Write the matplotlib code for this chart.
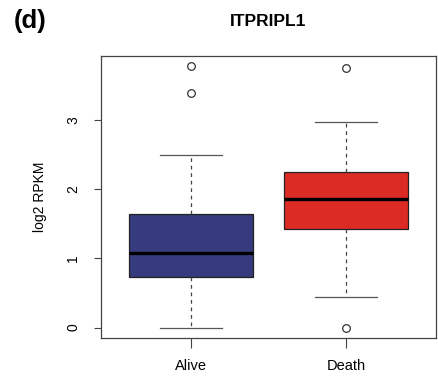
import matplotlib
matplotlib.use("Agg")
import matplotlib.pyplot as plt

plt.rcParams['font.family'] = ['Liberation Sans', 'DejaVu Sans']

groups = ["Alive", "Death"]
q1 = [0.73, 1.42]
med = [1.08, 1.86]
q3 = [1.64, 2.24]
whislo = [0.0, 0.44]
whishi = [2.49, 2.97]
fliers = [[3.77, 3.39], [3.75, 0.0]]
colors = ["#353b7c", "#dc2b24"]
yticks = [0, 1, 2, 3]

fig = plt.figure(figsize=(4.39, 3.79), dpi=100)
ax = fig.add_axes([0.230, 0.108, 0.763, 0.744])

stats = []
for i, g in enumerate(groups):
    stats.append(dict(label=g, q1=q1[i], med=med[i], q3=q3[i],
                      whislo=whislo[i], whishi=whishi[i], fliers=fliers[i]))

bp = ax.bxp(stats, positions=[1, 2], widths=0.8, patch_artist=True,
            showfliers=True,
            boxprops=dict(linewidth=0.9, edgecolor="#222222"),
            medianprops=dict(color="black", linewidth=2.4),
            whiskerprops=dict(color="#444444", linewidth=0.9, linestyle=(0, (3, 3))),
            capprops=dict(color="#555555", linewidth=0.9),
            capwidths=0.4,
            flierprops=dict(marker="o", markerfacecolor="none",
                            markeredgecolor="#333333", markersize=5.5, markeredgewidth=0.9))
for patch, c in zip(bp["boxes"], colors):
    patch.set_facecolor(c)

ax.set_xlim(0.42, 2.58)
ax.set_ylim(-0.151, 3.92)
ax.set_yticks(yticks)
ax.set_yticklabels([str(t) for t in yticks], rotation=90, va="center", fontsize=10)
ax.set_xticks([1, 2])
ax.set_xticklabels(groups, fontsize=10.5)
ax.tick_params(axis="y", length=5, width=0.8, color="#444444", pad=10)
ax.tick_params(axis="x", length=7, width=0.8, color="#444444", pad=8)
for s in ax.spines.values():
    s.set_color("#444444")
    s.set_linewidth(0.9)

ax.set_ylabel("log2 RPKM", fontsize=10, labelpad=14)
ax.set_title("ITPRIPL1", fontsize=12.5, fontweight="bold", pad=22)
fig.text(0.032, 0.945, "(d)", fontsize=18.5, fontweight="bold", va="center", ha="left")

fig.savefig("out.png", dpi=100)
